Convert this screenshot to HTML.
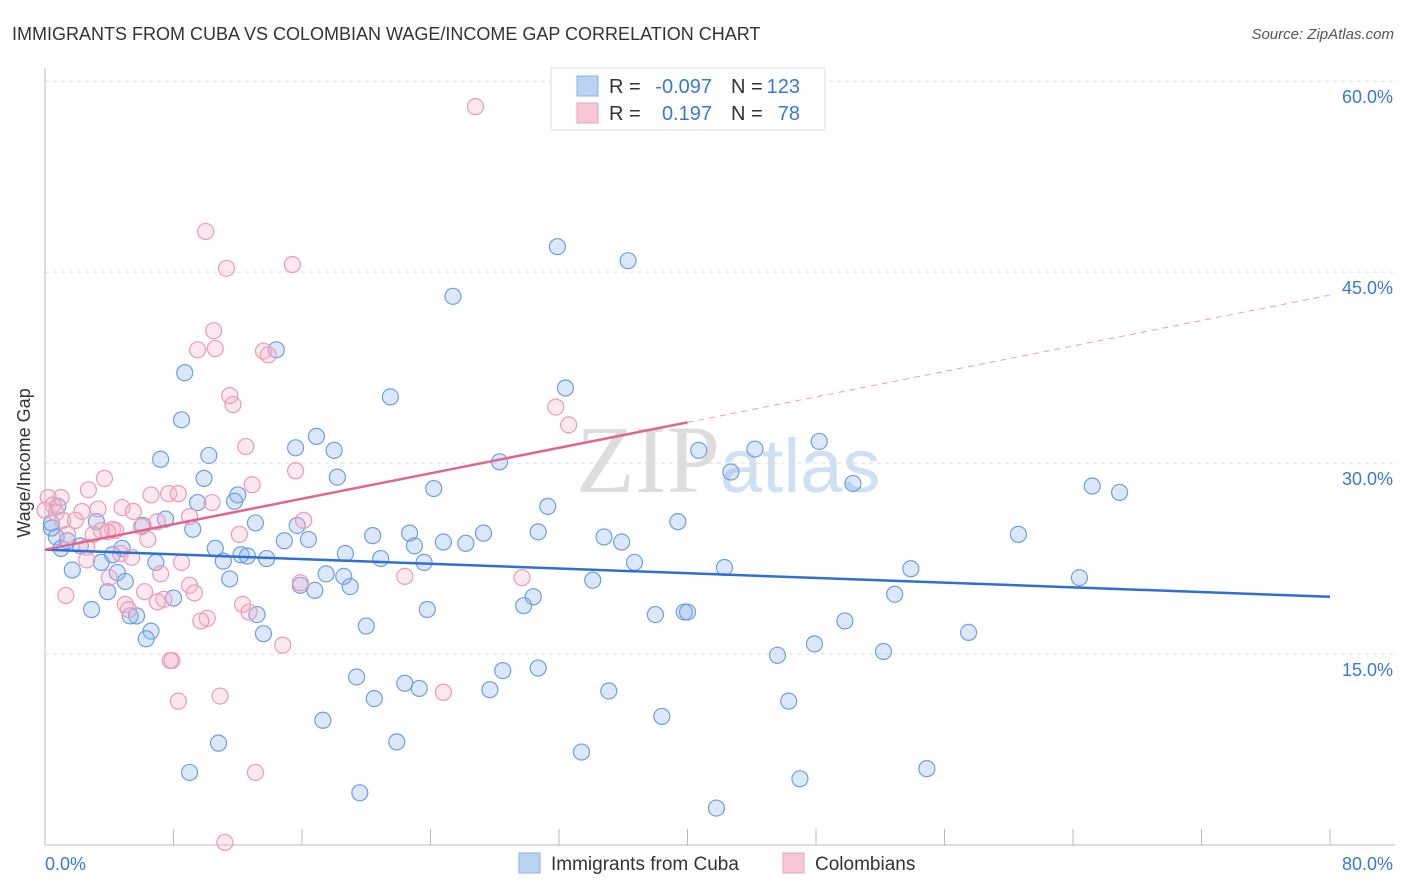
<!DOCTYPE html>
<html><head><meta charset="utf-8"><style>
body{margin:0;background:#fff;font-family:"Liberation Sans",sans-serif}
svg{display:block}
</style></head><body>
<svg id="chart" width="1406" height="892">
<text x="12" y="40" font-size="18" fill="#333">IMMIGRANTS FROM CUBA VS COLOMBIAN WAGE/INCOME GAP CORRELATION CHART</text>
<text x="1394" y="39" font-size="15" fill="#555" font-style="italic" text-anchor="end">Source: ZipAtlas.com</text>
<text x="720" y="492" font-size="96" fill="#ddd" text-anchor="end" font-family="Liberation Serif,serif">ZIP</text>
<text x="720" y="492" font-size="76" fill="#cfe0f3">atlas</text>
<g id="grid"></g><g id="pts"></g><g id="lines"></g>
<text x="22" y="455" font-size="18" fill="#333" transform="rotate(-90 30 455)" text-anchor="middle">Wage/Income Gap</text>
<text x="45" y="870" font-size="18" fill="#3a78d4">0.0%</text>
<text x="1393" y="870" font-size="18" fill="#3a78d4" text-anchor="end">80.0%</text>
<g>
<rect x="551" y="68" width="274" height="62" fill="#fff" stroke="#ddd"/>
<rect x="577" y="76" width="21" height="20" fill="#b9d3f3" stroke="#8ab1e6"/>
<rect x="577" y="103" width="21" height="20" fill="#f8c6d5" stroke="#eba3bb"/>
<text x="609" y="93" font-size="20" fill="#333">R =</text><text x="712" y="93" font-size="20" fill="#3a78d4" text-anchor="end">-0.097</text>
<text x="731" y="93" font-size="20" fill="#333">N =</text><text x="800" y="93" font-size="20" fill="#3a78d4" text-anchor="end">123</text>
<text x="609" y="120" font-size="20" fill="#333">R =</text><text x="712" y="120" font-size="20" fill="#3a78d4" text-anchor="end">0.197</text>
<text x="731" y="120" font-size="20" fill="#333">N =</text><text x="800" y="120" font-size="20" fill="#3a78d4" text-anchor="end">78</text>
</g>
<g>
<rect x="519" y="853" width="21" height="20" fill="#b9d3f3" stroke="#8ab1e6"/>
<text x="551" y="870" font-size="19" fill="#333">Immigrants from Cuba</text>
<rect x="783" y="853" width="21" height="20" fill="#f8c6d5" stroke="#eba3bb"/>
<text x="815" y="870" font-size="19" fill="#333">Colombians</text>
</g>
</svg>
<script>
const yTicks=[15,30,45,60];
const xTicks=[0,8,16,24,32,40,48,56,64,72,80];
const blueX=[31.9,36.3,25.4,14.4,8.7,32.4,21.5,8.5,16.9,15.6,44.2,48.2,10.2,18.0,7.2,28.3,40.7,42.7,9.9,18.2,50.3,65.2,66.9,24.2,12.0,11.8,9.5,31.3,7.5,13.1,15.7,39.4,3.2,6.1,9.2,0.4,22.7,27.3,30.7,60.6,20.4,34.8,0.7,16.4,14.9,24.8,35.9,26.2,1.4,2.2,23.0,1.0,4.8,10.6,18.7,12.2,4.2,12.6,13.8,11.1,20.9,3.5,6.9,23.6,36.7,42.3,53.9,1.7,4.5,17.5,18.6,64.4,11.5,34.1,5.0,19.0,15.9,16.8,3.9,8.0,30.4,52.9,29.8,2.9,23.8,5.3,5.7,13.2,38.0,39.8,40.0,49.8,20.0,6.6,13.6,57.5,6.3,47.9,52.2,45.6,30.7,28.5,19.4,22.4,23.3,27.7,35.1,20.5,46.3,38.4,17.3,10.8,21.9,33.4,54.9,9.0,47.0,19.6,41.8,0.4,0.8];
const blueY=[47.0,45.9,43.1,38.9,37.1,35.9,35.2,33.4,32.1,31.2,31.1,31.7,30.6,31.0,30.3,30.1,31.0,29.3,28.8,28.9,28.4,28.2,27.7,28.0,27.5,27.0,26.9,26.6,25.6,25.3,25.1,25.4,25.4,25.1,24.8,24.9,24.5,24.5,24.6,24.4,24.3,24.2,24.2,24.0,23.9,23.8,23.8,23.7,23.9,23.5,23.5,23.3,23.3,23.3,22.9,22.8,22.8,22.7,22.5,22.3,22.5,22.2,22.2,22.2,22.2,21.8,21.7,21.6,21.4,21.3,21.1,21.0,20.9,20.8,20.7,20.3,20.4,20.0,19.9,19.4,19.5,19.7,18.8,18.5,18.5,18.0,18.0,18.1,18.1,18.3,18.3,17.6,17.2,16.8,16.6,16.7,16.2,15.8,15.2,14.9,13.9,13.7,13.2,12.7,12.3,12.2,12.1,11.5,11.3,10.1,9.8,8.0,8.1,7.3,6.0,5.7,5.2,4.1,2.9,25.3,26.6];
const pinkX=[26.8,10.0,11.3,15.4,10.5,9.5,10.6,13.6,13.9,11.5,11.7,31.8,32.6,12.5,15.6,3.7,12.9,2.7,1.0,6.6,7.7,8.3,0.2,10.4,0.5,0,3.3,4.8,5.5,2.3,0.7,9.0,1.1,1.9,7.0,16.1,6.0,4.2,4.4,3.9,3.5,3.0,1.4,12.1,6.4,2.6,4.7,5.4,2.6,8.5,22.4,4.0,7.2,29.7,15.9,9.0,9.3,1.3,6.2,7.4,7.0,5.0,5.2,12.3,12.7,10.1,9.7,14.8,7.9,7.8,10.9,24.8,8.3,13.1,11.2];
const pinkY=[58.0,48.2,45.3,45.6,40.4,38.9,39.0,38.8,38.5,35.3,34.6,34.4,33.0,31.3,29.4,28.8,28.3,27.9,27.3,27.5,27.6,27.6,27.3,26.9,26.7,26.3,26.4,26.5,26.2,26.2,26.1,25.8,25.5,25.5,25.4,25.5,25.0,24.8,24.7,24.6,24.7,24.4,24.4,24.4,24.0,23.4,22.9,22.6,22.4,22.2,21.1,21.0,21.3,21.0,20.6,20.4,19.8,19.6,19.9,19.3,19.1,18.9,18.5,18.9,18.3,17.8,17.6,15.7,14.5,14.5,11.7,12.0,11.3,5.7,0.2];
const blueTrend=[23.2,19.5];
const pinkTrend=[23.2,33.2,43.2];
const sx=v=>45+v*1285/80, sy=v=>845-v*12.73;
const NS='http://www.w3.org/2000/svg';
function mk(tag,attrs,parent){const e=document.createElementNS(NS,tag);for(const k in attrs)e.setAttribute(k,attrs[k]);document.getElementById(parent).appendChild(e);return e;}
yTicks.forEach(t=>{
 const l=mk('line',{x1:45,x2:1395,y1:sy(t),y2:sy(t),stroke:'#ddd','stroke-dasharray':'4,4'},'grid');
 
 
 const tx=mk('text',{x:1393,y:sy(t)+22,'font-size':18,fill:'#3a78d4','text-anchor':'end'},'grid');tx.textContent=t.toFixed(1)+'%';
 
 
});
const ax=mk('line',{x1:45,x2:45,y1:68,y2:845,stroke:'#bbb'},'grid');


const bx=mk('line',{x1:45,x2:1395,y1:845,y2:845,stroke:'#bbb'},'grid');


xTicks.forEach(t=>{const l=mk('line',{x1:sx(t),x2:sx(t),y1:829,y2:845,stroke:'#bbb'},'grid');
 
 });
blueX.forEach((x,i)=>{const c=mk('circle',{cx:sx(x),cy:sy(blueY[i]),r:8,fill:'rgba(140,180,235,0.3)',stroke:'#6d9fe0','stroke-width':1.2},'pts');
 
 });
pinkX.forEach((x,i)=>{const c=mk('circle',{cx:sx(x),cy:sy(pinkY[i]),r:8,fill:'rgba(245,180,200,0.3)',stroke:'#eb9ab6','stroke-width':1.2},'pts');
 
 });
const bl=mk('line',{x1:sx(0),y1:sy(blueTrend[0]),x2:sx(80),y2:sy(blueTrend[1]),stroke:'#2f6fd4','stroke-width':2.5},'lines');


const pl=mk('line',{x1:sx(0),y1:sy(pinkTrend[0]),x2:sx(40),y2:sy(pinkTrend[1]),stroke:'#e0668f','stroke-width':2.5},'lines');


const pd=mk('line',{x1:sx(40),y1:sy(pinkTrend[1]),x2:sx(80),y2:sy(pinkTrend[2]),stroke:'#e8a0b8','stroke-width':1,'stroke-dasharray':'6,5'},'lines');


</script>
</body></html>
